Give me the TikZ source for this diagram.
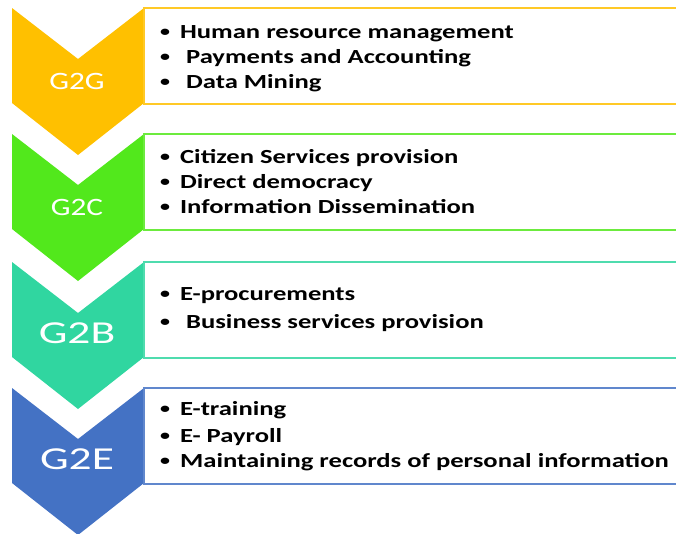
\documentclass[tikz,border=0pt]{standalone}
\usepackage{fontspec}
\setmainfont[FakeStretch=1.25]{Carlito}
\newfontfamily\itemfont[FakeStretch=1.33]{Carlito}
\newfontfamily\biglabfont[FakeStretch=1.42]{Carlito}
\definecolor{ggcol}{HTML}{FFC000}
\definecolor{gccol}{HTML}{52E81C}
\definecolor{gbcol}{HTML}{30D6A0}
\definecolor{gecol}{HTML}{4472C4}
\tikzset{
  chevlabel/.style={text=white, anchor=base, inner sep=0pt},
  itemtext/.style={anchor=base west, inner sep=0pt, font=\itemfont\fontsize{20}{24}\selectfont\bfseries}
}
\newcommand{\itm}[1]{{\fontsize{15}{15}\selectfont\raisebox{1.5pt}{\textbullet}}\hspace{10pt}#1}
\begin{document}
\begin{tikzpicture}[x=1pt, y=-1pt]
    \useasboundingbox (0,0) rectangle (676,533);
    \clip (0,0) rectangle (676,533);

    % chevrons and boxes
    \foreach \T/\col/\lab/\lf in {8/ggcol/G2G/\fontsize{25}{25}, 134/gccol/G2C/\fontsize{25}{25}, 262/gbcol/G2B/\biglabfont\fontsize{32}{32}, 388/gecol/G2E/\biglabfont\fontsize{32}{32}} {
        \fill[\col] (12,\T) -- (78,\T+51) -- (144,\T) -- (144,\T+95) -- (78,\T+147) -- (12,\T+95) -- cycle;
        \draw[\col!85, line width=1.2pt] (144,\T) rectangle (700,\T+96);
        \node[chevlabel, font=\lf\selectfont] (lab\lab) at (77,\T+81) {\lab};
    }

    % G2G items
    \node[itemtext] (gg1) at (160,38) {\itm{Human resource management}};
    \node[itemtext] (gg2) at (160,63) {\itm{\ Payments and Accounting}};
    \node[itemtext] (gg3) at (160,88) {\itm{\ Data Mining}};

    % G2C items
    \node[itemtext] (gc1) at (160,163) {\itm{Citizen Services provision}};
    \node[itemtext] (gc2) at (160,188) {\itm{Direct democracy}};
    \node[itemtext] (gc3) at (160,213) {\itm{Information Dissemination}};

    % G2B items
    \node[itemtext] (gb1) at (160,300) {\itm{E-procurements}};
    \node[itemtext] (gb2) at (160,328) {\itm{\ Business services provision}};

    % G2E items
    \node[itemtext] (ge1) at (160,415) {\itm{E-training}};
    \node[itemtext] (ge2) at (160,442) {\itm{E- Payroll}};
    \node[itemtext] (ge3) at (160,467) {\itm{Maintaining records of personal information}};
\end{tikzpicture}
\end{document}
